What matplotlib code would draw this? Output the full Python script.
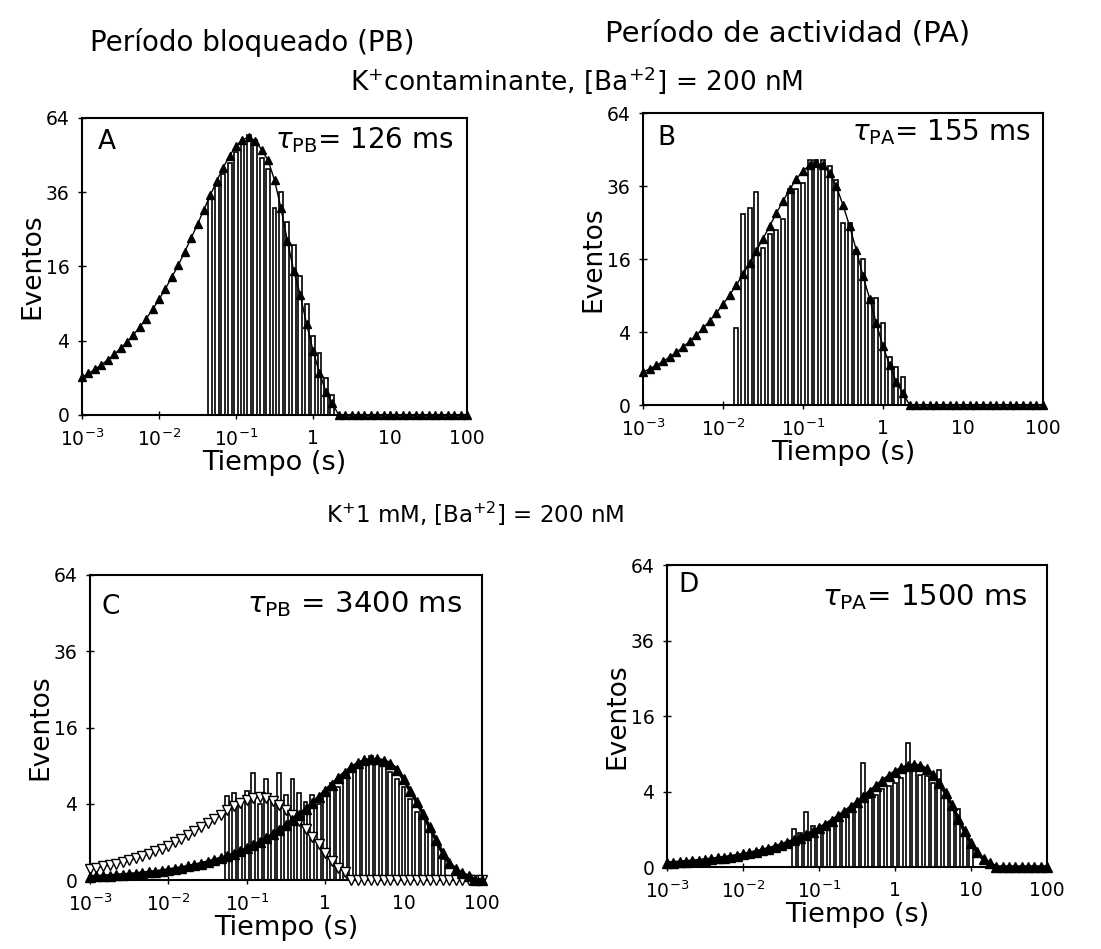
#!/usr/bin/env python3
"""
Dwell-time histograms (blocked / active periods) on log time axis,
square-root event axis. Four panels A-D.
Output: out.png
"""
import matplotlib
matplotlib.use("Agg")
import matplotlib.pyplot as plt
import numpy as np
from matplotlib.ticker import NullLocator

# log binning: 12 bins per decade, 1 ms .. 100 s
BINS_PER_DECADE = 12
N_BINS = 61
T = 10.0 ** (-3 + np.arange(N_BINS) / BINS_PER_DECADE)

# --- panel A: blocked period, contaminant K+ -------------------------------
A_FIT = [1.03, 1.25, 1.51, 1.82, 2.20, 2.66, 3.21, 3.87, 4.66, 5.61, 6.74,
         8.09, 9.69, 11.6, 13.8, 16.3, 19.3, 22.7, 26.4, 30.6, 35.1, 39.8,
         44.4, 48.8, 52.5, 55.0, 56.0,
         54.5, 51, 47, 40, 31, 22, 15, 10.5, 6, 3, 1.3, 0.4, 0.1] + [0] * 21
A_BAR_START = 20
A_BARS = [34, 38, 42, 46, 50, 55, 57, 55, 48, 44, 31, 36, 27, 21, 14, 9,
          4.5, 2.8, 1.0, 0.3]

# --- panel B: active period, contaminant K+ --------------------------------
B_FIT = [0.81, 0.98, 1.18, 1.43, 1.73, 2.09, 2.52, 3.04, 3.66, 4.41, 5.30,
         6.36, 7.61, 9.09, 10.8, 12.8, 15.2, 17.8, 20.8, 24.0, 27.6, 31.2,
         34.9, 38.3, 41.2, 43.2, 44.0,
         43.1, 40.4, 36, 30, 24, 18, 12.5, 8.5, 5, 2.6, 1.2, 0.4, 0.1] + [0] * 21
B_BAR_START = 14
B_BARS = [4.5, 27.5, 29, 34, 18.5, 22, 23, 26, 35, 35, 37, 45, 45, 45, 43,
          38, 25, 25, 18, 16, 8.6, 8.6, 5, 1.7, 1.1, 0.6]

# --- panel C: blocked period, K+ 1 mM (two components) ---------------------
C_FIT = [0.007, 0.009, 0.010, 0.013, 0.015, 0.019, 0.022, 0.027, 0.033,
         0.040, 0.048, 0.058, 0.071, 0.086, 0.104, 0.126, 0.152, 0.184,
         0.223, 0.269, 0.325, 0.393, 0.475, 0.573, 0.691, 0.833, 1.00, 1.20,
         1.45, 1.73, 2.07, 2.46, 2.92, 3.45, 4.05, 4.72, 5.47, 6.27, 7.10,
         7.93, 8.71, 9.37, 9.83, 10.0, 10.0, 9.8, 9.3, 8.4, 7.0, 5.5, 4.2,
         3.0, 1.9, 1.1, 0.5, 0.2, 0.08, 0.03, 0.01, 0, 0]
C_FAST = [0.086, 0.105, 0.126, 0.153, 0.185, 0.223, 0.269, 0.325, 0.391,
          0.471, 0.566, 0.679, 0.813, 0.971, 1.16, 1.37, 1.62, 1.90, 2.22,
          2.57, 2.94, 3.34, 3.73, 4.09, 4.40, 4.62, 4.70,
          4.6, 4.3, 3.9, 3.4, 2.9, 2.4, 1.8, 1.3, 0.9, 0.5, 0.25, 0.1,
          0.04] + [0] * 21
C_BAR_START = 21
C_BARS = [4.8, 5.2, 4.5, 5.5, 7.9, 4.0, 7.0, 4.5, 7.9, 5.0, 7.0, 5.2, 4.2,
          5.0, 4.0, 5.5, 6.5, 6.0, 7.5, 8.0, 9.0, 9.5, 10.5, 9.5, 9.0, 8.0,
          7.0, 6.0, 4.5, 3.2, 3.0, 2.0, 1.0, 0.3]

# --- panel D: active period, K+ 1 mM ---------------------------------------
D_FIT = [0.011, 0.0135, 0.0164, 0.0198, 0.024, 0.029, 0.035, 0.043, 0.052,
         0.063, 0.076, 0.092, 0.111, 0.134, 0.162, 0.196, 0.238, 0.287,
         0.347, 0.418, 0.505, 0.608, 0.731, 0.879, 1.05, 1.26, 1.51, 1.80,
         2.13, 2.51, 2.95, 3.45, 3.99, 4.57, 5.18, 5.79, 6.36, 6.84, 7.18,
         7.30, 7.16, 6.71, 5.96, 4.96, 3.81, 2.66, 1.65, 0.89, 0.40, 0.15,
         0.04, 0.01] + [0] * 9
D_BAR_START = 20
D_BARS = [1.0, 0.8, 2.1, 1.2, 1.0, 1.1, 1.3, 1.6, 1.8, 2.2, 2.6, 7.6, 3.3,
          3.6, 4.3, 4.6, 5.0, 5.6, 10.8, 6.5, 6.0, 5.8, 5.0, 6.6, 3.5, 2.6,
          2.4, 0.8, 0.4]

Y_TICKS = [0, 4, 16, 36, 64]
X_TICKS = [1e-3, 1e-2, 1e-1, 1, 10, 100]
X_LABELS = [r"$10^{-3}$", r"$10^{-2}$", r"$10^{-1}$", "1", "10", "100"]

FILLED_THIN = dict(color="black", marker="^", ms=6, lw=1.0)
FILLED_THICK = dict(color="black", marker="^", ms=7, lw=2.5)
OPEN_TRI = dict(color="black", marker="v", ms=7, lw=1.0, mfc="white",
                mew=1.0)


def _fwd(y):
    return np.sqrt(np.clip(y, 0, None))


def _inv(y):
    return np.square(y)


def draw_panel(ax, letter, tau_text, letter_xy, tau_xy, tau_size, bar_start,
               bars, curves):
    ax.set_xscale("log")
    ax.set_yscale("function", functions=(_fwd, _inv))

    centers = T[bar_start:bar_start + len(bars)]
    half = 0.3 / BINS_PER_DECADE
    left = centers * 10 ** (-half)
    right = centers * 10 ** half
    ax.bar(left, bars, width=right - left, align="edge", facecolor="white",
           edgecolor="black", linewidth=1.2, zorder=2)

    for i, (vals, style) in enumerate(curves):
        ax.plot(T, vals, clip_on=False, zorder=3 + i, **style)

    ax.set_xlim(1e-3, 100)
    ax.set_ylim(0, 64)
    ax.set_xticks(X_TICKS)
    ax.set_xticklabels(X_LABELS)
    ax.xaxis.set_minor_locator(NullLocator())
    ax.set_yticks(Y_TICKS)
    ax.set_yticklabels([str(v) for v in Y_TICKS])
    ax.yaxis.set_minor_locator(NullLocator())
    ax.tick_params(direction="inout", length=6, width=1, labelsize=13.5)
    ax.tick_params(axis="x", pad=7)
    ax.tick_params(axis="y", pad=6)
    for sp in ax.spines.values():
        sp.set_linewidth(1.5)

    ax.set_ylabel("Eventos", fontsize=19, labelpad=0)
    ax.set_xlabel("Tiempo (s)", fontsize=19.5, labelpad=0)
    ax.text(*letter_xy, letter, transform=ax.transAxes, fontsize=19,
            ha="left", va="center")
    ax.text(*tau_xy, tau_text, transform=ax.transAxes, fontsize=tau_size,
            ha="right", va="center")


def main():
    fig = plt.figure(figsize=(11.01, 9.49), dpi=100)

    ax_a = fig.add_axes([0.0745, 0.5627, 0.3497, 0.313])
    ax_b = fig.add_axes([0.584, 0.5732, 0.3633, 0.3077])
    ax_c = fig.add_axes([0.0817, 0.0727, 0.356, 0.3214])
    ax_d = fig.add_axes([0.6058, 0.0864, 0.3451, 0.3182])

    draw_panel(ax_a, "A", r"$\tau_{\rm PB}$= 126 ms", (0.04, 0.92),
               (0.965, 0.926), 20, A_BAR_START, A_BARS,
               [(A_FIT, FILLED_THIN)])
    draw_panel(ax_b, "B", r"$\tau_{\rm PA}$= 155 ms", (0.035, 0.914),
               (0.97, 0.935), 20, B_BAR_START, B_BARS,
               [(B_FIT, FILLED_THIN)])
    draw_panel(ax_c, "C", r"$\tau_{\rm PB}$ = 3400 ms", (0.03, 0.895),
               (0.95, 0.905), 21, C_BAR_START, C_BARS,
               [(C_FAST, OPEN_TRI), (C_FIT, FILLED_THICK)])
    draw_panel(ax_d, "D", r"$\tau_{\rm PA}$= 1500 ms", (0.03, 0.934),
               (0.95, 0.894), 21, D_BAR_START, D_BARS,
               [(D_FIT, FILLED_THICK)])

    fig.text(0.229, 0.955, "Período bloqueado (PB)", fontsize=20,
             ha="center", va="center")
    fig.text(0.715, 0.965, "Período de actividad (PA)", fontsize=21,
             ha="center", va="center")
    fig.text(0.524, 0.916, r"K$^{+}$contaminante, [Ba$^{+2}$] = 200 nM",
             fontsize=19, ha="center", va="center")
    fig.text(0.432, 0.459, r"K$^{+}$1 mM, [Ba$^{+2}$] = 200 nM",
             fontsize=16.5, ha="center", va="center")

    fig.savefig("out.png", dpi=100)


if __name__ == "__main__":
    main()
